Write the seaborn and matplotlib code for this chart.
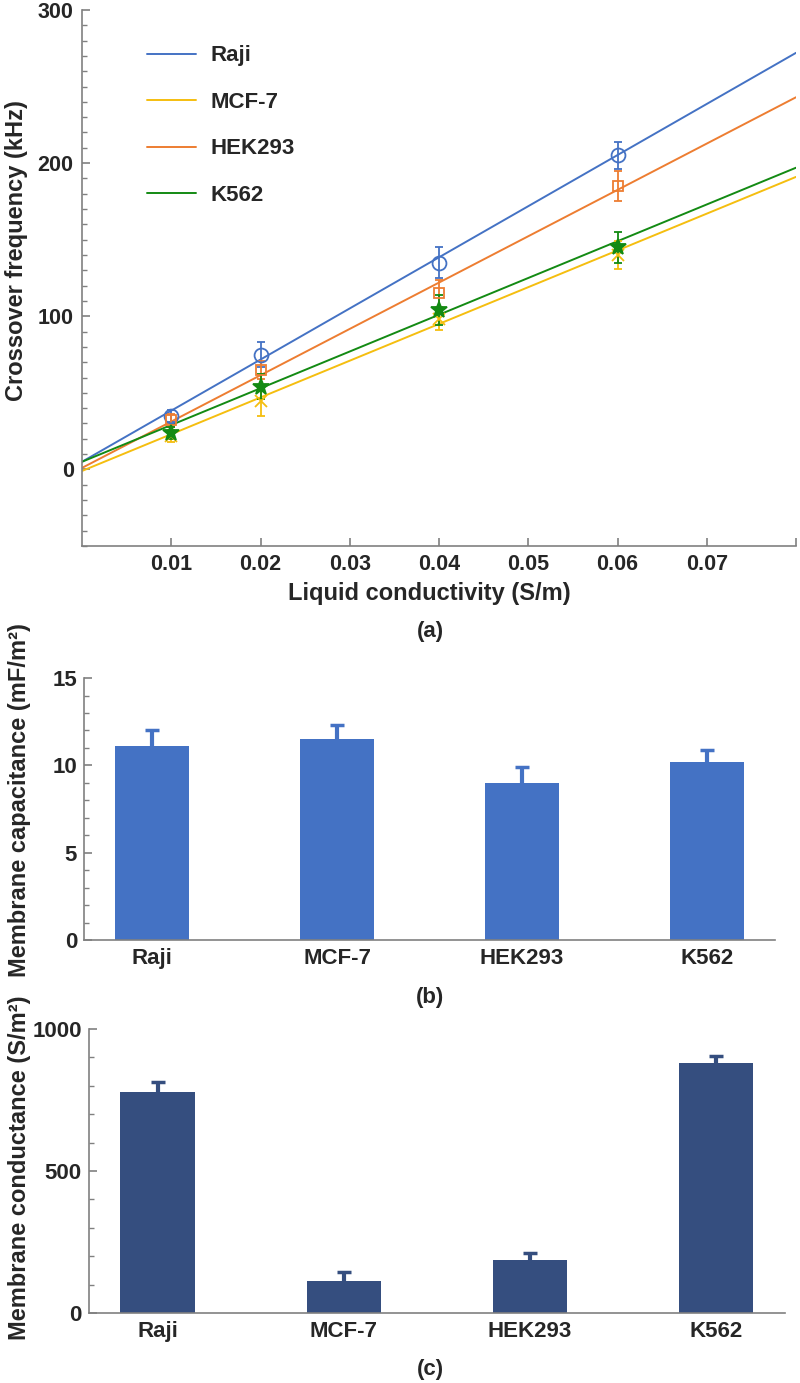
import matplotlib.pyplot as plt
import numpy as np
import pandas as pd
import seaborn as sns
from matplotlib.ticker import MultipleLocator

cells = ['Raji', 'MCF-7', 'HEK293', 'K562']
line_colors = ['#4472C4', '#F5BE0F', '#ED7D31', '#138A13']
markers = ['o', 'x', 's', '*']

# (a) crossover frequency vs liquid conductivity
conductivity = [0.01, 0.02, 0.04, 0.06]
freq_raji = [35, 75, 135, 205]
freq_mcf7 = [22, 45, 98, 140]
freq_hek293 = [32, 65, 115, 185]
freq_k562 = [24, 54, 104, 145]
err_raji = [4, 8, 10, 9]
err_mcf7 = [4, 10, 7, 9]
err_hek293 = [4, 6, 9, 10]
err_k562 = [4, 8, 10, 10]

# fitted lines: value at 0 and at 0.08 S/m
fit_x = [0.0, 0.08]
fit_raji = [5, 272]
fit_mcf7 = [-1, 191]
fit_hek293 = [1, 243]
fit_k562 = [5, 197]

x_ticks = [0.01, 0.02, 0.03, 0.04, 0.05, 0.06, 0.07, 0.08]
x_ticklabels = ['0.01', '0.02', '0.03', '0.04', '0.05', '0.06', '0.07', '']

# (b) membrane capacitance, (c) membrane conductance
capacitance = [11.1, 11.5, 9.0, 10.2]
capacitance_err = [0.95, 0.8, 0.9, 0.7]
conductance = [780, 113, 187, 880]
conductance_err = [32, 30, 24, 25]

sns.set_style('ticks')
plt.rcParams['font.family'] = ['Liberation Sans', 'DejaVu Sans']
plt.rcParams['font.weight'] = 'bold'
plt.rcParams['axes.labelweight'] = 'bold'

spine_col = '#808080'
label_size = 17


def style_axis(ax):
    sns.despine(ax=ax)
    for s in ['left', 'bottom']:
        ax.spines[s].set_color(spine_col)
        ax.spines[s].set_linewidth(1.2)


fig = plt.figure(figsize=(8, 13.83), dpi=100)

# ---- panel (a)
ax1 = fig.add_axes([0.1025, 0.6052, 0.8925, 0.3876])
fit_df = pd.DataFrame({
    'x': fit_x * 4,
    'y': fit_raji + fit_mcf7 + fit_hek293 + fit_k562,
    'cell': np.repeat(cells, 2),
})
sns.lineplot(data=fit_df, x='x', y='y', hue='cell', hue_order=cells,
             palette=dict(zip(cells, line_colors)), linewidth=1.4, ax=ax1)

freqs = [freq_raji, freq_mcf7, freq_hek293, freq_k562]
errs = [err_raji, err_mcf7, err_hek293, err_k562]
sizes = [10, 8, 7, 12]
for color, mk, y, e, ms in zip(line_colors, markers, freqs, errs, sizes):
    face = color if mk == '*' else 'none'
    ax1.errorbar(conductivity, y, yerr=e, fmt=mk, color=color, mfc=face, ms=ms,
                 mew=1.3, elinewidth=1.3, capsize=3, capthick=1.3, zorder=3)

ax1.set_xlim(0, 0.08)
ax1.set_ylim(-50, 300)
ax1.set_xticks(x_ticks)
ax1.set_xticklabels(x_ticklabels)
ax1.set_yticks([0, 100, 200, 300])
ax1.yaxis.set_minor_locator(MultipleLocator(10))
style_axis(ax1)
ax1.tick_params(which='major', direction='in', length=6, width=1.2, color=spine_col,
                labelsize=15.5, pad=6)
ax1.tick_params(which='minor', direction='in', length=3.5, width=1.0, color=spine_col)
ax1.set_xlabel('Liquid conductivity (S/m)', fontsize=label_size)
ax1.set_ylabel('Crossover frequency (kHz)', fontsize=label_size)
ax1.xaxis.set_label_coords(0.487, -0.068)
ax1.yaxis.set_label_coords(-0.075, 0.552)
ax1.legend(loc='upper left', bbox_to_anchor=(0.091, 0.934), frameon=False,
           borderaxespad=0, borderpad=0, fontsize=16, labelspacing=1.15,
           handlelength=2.2, handletextpad=0.65)


def bar_panel(ax, values, errors, color, ylim, major, minor, ylabel):
    df = pd.DataFrame({'cell': cells, 'value': values})
    sns.barplot(data=df, x='cell', y='value', color=color, width=0.4,
                errorbar=None, saturation=1, linewidth=0, ax=ax)
    xs = [p.get_x() + p.get_width() / 2 for p in ax.patches]
    eb = ax.errorbar(xs, values, yerr=[np.zeros(len(values)), errors], fmt='none',
                     ecolor=color, elinewidth=3, capsize=5, capthick=2.5, zorder=0.8)
    eb[1][0].set_visible(False)
    ax.set_ylim(*ylim)
    ax.yaxis.set_major_locator(MultipleLocator(major))
    ax.yaxis.set_minor_locator(MultipleLocator(minor))
    style_axis(ax)
    ax.tick_params(axis='y', which='major', direction='in', length=6, width=1.2,
                   color=spine_col, labelsize=16, pad=5)
    ax.tick_params(axis='y', which='minor', direction='in', length=3.5, width=1.0,
                   color=spine_col)
    ax.tick_params(axis='x', length=0, labelsize=16, pad=6)
    ax.set_xlabel('')
    ax.set_ylabel(ylabel, fontsize=label_size)


# ---- panel (b)
ax2 = fig.add_axes([0.105, 0.3203, 0.864, 0.1894])
bar_panel(ax2, capacitance, capacitance_err, '#4472C4', (0, 15), 5, 1,
          'Membrane capacitance (mF/m²)')
ax2.yaxis.set_label_coords(-0.077, 0.534)

# ---- panel (c)
ax3 = fig.add_axes([0.111, 0.0506, 0.87, 0.2053])
bar_panel(ax3, conductance, conductance_err, '#354E7F', (0, 1000), 500, 100,
          'Membrane conductance (S/m²)')
ax3.yaxis.set_label_coords(-0.083, 0.51)

for lab, ypix in [('(a)', 632), ('(b)', 997), ('(c)', 1369)]:
    fig.text(0.5375, 1 - ypix / 1383, lab, ha='center', va='center',
             fontsize=16, fontweight='bold')

fig.savefig('out.png', dpi=100)
